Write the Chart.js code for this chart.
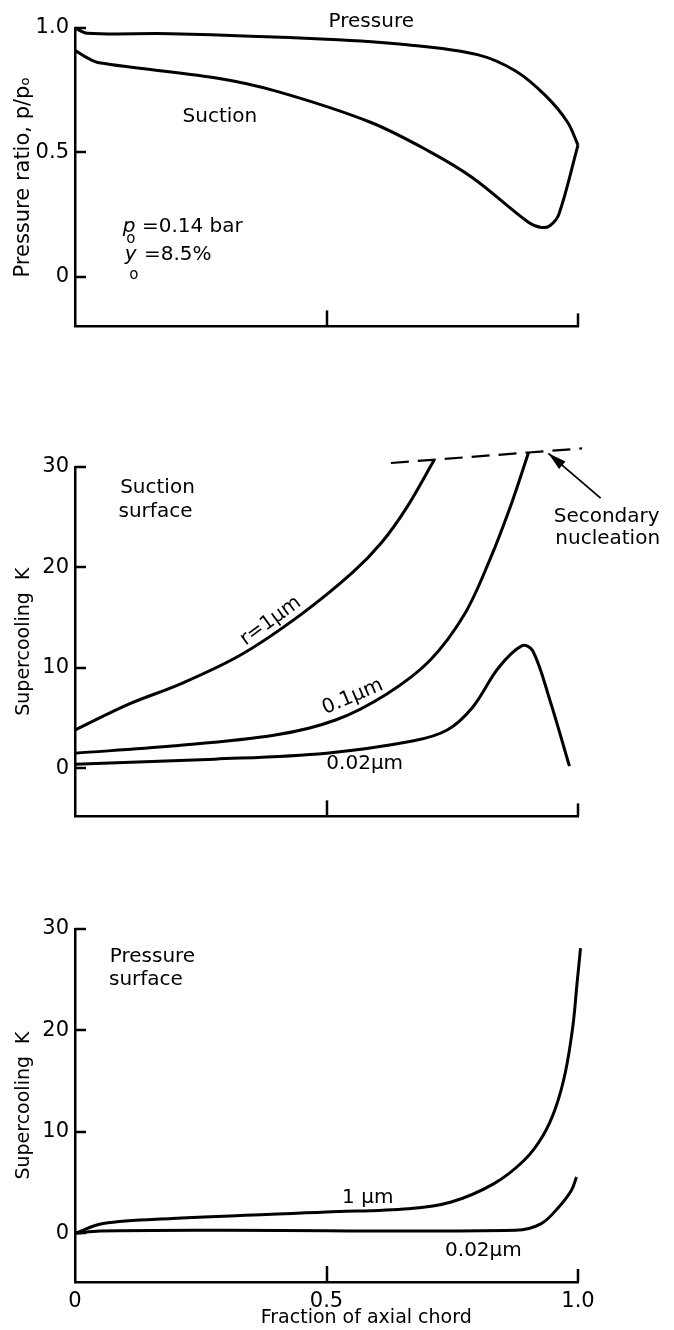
<!DOCTYPE html>
<html>
<head>
<meta charset="utf-8">
<script src="https://cdn.jsdelivr.net/npm/chart.js@4.4.0/dist/chart.umd.min.js"></script>
<style>
  html, body { margin: 0; padding: 0; background: #fff; }
  body { position: relative; width: 674px; height: 1330px; overflow: hidden; }
  .panel { position: absolute; left: 0; width: 674px; }
</style>
</head>
<body>
<div class="panel" style="top:0;height:345px"><canvas id="ratioChart"></canvas></div>
<div class="panel" style="top:440px;height:395px"><canvas id="suctionChart"></canvas></div>
<div class="panel" style="top:880px;height:450px"><canvas id="pressureChart"></canvas></div>
<script>
// fraction of axial chord (x) against the plotted quantity (y)

// pressure ratio p/p0 on the two blade surfaces
var chordPressure = [0, 0.024, 0.19, 0.5, 0.66, 0.80, 0.876, 0.936, 0.979, 1.0];
var ratioPressure = [1.0, 0.979, 0.977, 0.955, 0.933, 0.893, 0.827, 0.727, 0.622, 0.529];
var chordSuction = [0, 0.02, 0.048, 0.278, 0.398, 0.586, 0.705, 0.791, 0.902, 0.927, 0.944, 0.962, 1.0];
var ratioSuction = [0.91, 0.885, 0.86, 0.80, 0.747, 0.622, 0.503, 0.397, 0.218, 0.198, 0.205, 0.251, 0.529];

// supercooling on the suction surface, by droplet radius
var chordSuc1 = [0, 0.108, 0.21, 0.33, 0.449, 0.552, 0.61, 0.66, 0.714];
var coolSuc1 = [3.8, 6.4, 8.4, 11.3, 15.3, 19.5, 22.5, 26.0, 30.7];
var chordSuc01 = [0, 0.193, 0.398, 0.518, 0.62, 0.705, 0.774, 0.825, 0.868, 0.902];
var coolSuc01 = [1.5, 2.2, 3.3, 4.8, 7.4, 10.7, 15.3, 20.8, 26.4, 31.5];
var chordSuc002 = [0, 0.278, 0.5, 0.671, 0.74, 0.791, 0.842, 0.889, 0.91, 0.944, 0.983];
var coolSuc002 = [0.4, 0.9, 1.5, 2.7, 3.8, 6.1, 10.0, 12.2, 11.7, 6.8, 0.2];
// secondary nucleation limit
var chordNucleation = [0.628, 1.008];
var coolNucleation = [30.4, 31.85];
var nucleationArrow = [[1.045, 26.9], [0.941, 31.36]];

// supercooling on the pressure surface
var chordPre1 = [0, 0.056, 0.193, 0.5, 0.663, 0.748, 0.833, 0.893, 0.93, 0.955, 0.975, 0.99, 0.998, 1.005];
var coolPre1 = [0, 0.96, 1.45, 2.1, 2.43, 3.09, 4.9, 7.2, 9.6, 12.3, 15.9, 20.5, 24.6, 28.1];
var chordPre002 = [0, 0.05, 0.278, 0.876, 0.927, 0.962, 0.987, 0.997];
var coolPre002 = [0, 0.22, 0.3, 0.3, 0.96, 2.6, 4.24, 5.56];

// axis ticks
var ratioTicks = [0, 0.5, 1.0];
var coolTicks = [0, 10, 20, 30];
var chordTicks = [0, 0.5, 1.0];

var FONT = '"DejaVu Sans", "Liberation Sans", sans-serif';

function pts(xs, ys) {
  return xs.map(function (v, i) { return { x: v, y: ys[i] }; });
}

function curve(xs, ys, extra) {
  var ds = {
    data: pts(xs, ys),
    borderColor: '#000',
    borderWidth: 3,
    pointRadius: 0,
    showLine: true,
    fill: false,
    clip: false,
    tension: 0.35
  };
  for (var k in extra) ds[k] = extra[k];
  return ds;
}

// inward tick marks, notes and the pointer arrow
function paperLayer(cfg) {
  return {
    id: 'paper',
    afterDatasetsDraw: function (chart) {
      var ctx = chart.ctx, sx = chart.scales.x, sy = chart.scales.y;
      ctx.save();
      ctx.strokeStyle = '#000';
      ctx.fillStyle = '#000';
      ctx.lineWidth = 2.5;
      cfg.yTicks.forEach(function (v) {
        var py = Math.round(sy.getPixelForValue(v));
        ctx.beginPath();
        ctx.moveTo(sx.left, py);
        ctx.lineTo(sx.left + 11, py);
        ctx.stroke();
      });
      chordTicks.forEach(function (v) {
        if (v === 0) return;
        var px = Math.round(sx.getPixelForValue(v));
        ctx.beginPath();
        ctx.moveTo(px, sy.bottom);
        ctx.lineTo(px, sy.bottom - (v === 1 ? 13 : 16));
        ctx.stroke();
      });
      if (cfg.arrow) {
        var x0 = sx.getPixelForValue(cfg.arrow[0][0]), y0 = sy.getPixelForValue(cfg.arrow[0][1]);
        var x1 = sx.getPixelForValue(cfg.arrow[1][0]), y1 = sy.getPixelForValue(cfg.arrow[1][1]);
        var a = Math.atan2(y1 - y0, x1 - x0);
        ctx.lineWidth = 1.8;
        ctx.beginPath();
        ctx.moveTo(x0, y0);
        ctx.lineTo(x1, y1);
        ctx.stroke();
        ctx.beginPath();
        ctx.moveTo(x1, y1);
        ctx.lineTo(x1 - 19 * Math.cos(a - 0.26), y1 - 19 * Math.sin(a - 0.26));
        ctx.lineTo(x1 - 19 * Math.cos(a + 0.26), y1 - 19 * Math.sin(a + 0.26));
        ctx.closePath();
        ctx.fill();
      }
      cfg.notes.forEach(function (n) {
        ctx.save();
        ctx.translate(sx.getPixelForValue(n.x), sy.getPixelForValue(n.y));
        if (n.rotate) ctx.rotate(n.rotate * Math.PI / 180);
        ctx.font = (n.style || '') + ' ' + (n.size || 20) + 'px ' + FONT;
        ctx.textAlign = n.align || 'center';
        ctx.textBaseline = n.baseline || 'middle';
        ctx.fillText(n.text, 0, 0);
        ctx.restore();
      });
      ctx.restore();
    }
  };
}

function panel(id, opt) {
  return new Chart(document.getElementById(id), {
    type: 'scatter',
    data: { datasets: opt.datasets },
    options: {
      responsive: true,
      maintainAspectRatio: false,
      animation: false,
      events: [],
      layout: { padding: { top: opt.padTop, left: 0, right: 96, bottom: 0 } },
      plugins: { legend: { display: false }, tooltip: { enabled: false } },
      scales: {
        x: {
          type: 'linear',
          min: 0,
          max: 1,
          afterBuildTicks: function (s) { s.ticks = chordTicks.map(function (v) { return { value: v }; }); },
          afterFit: function (s) { s.height = opt.xHeight; },
          grid: { display: false, drawTicks: false },
          border: { display: true, color: '#000', width: 2.5 },
          ticks: {
            display: !!opt.xLabels,
            padding: 7,
            color: '#000',
            font: { family: FONT, size: 21 },
            callback: function (v) { return v === 0 ? '0' : v.toFixed(1); }
          }
        },
        y: {
          type: 'linear',
          min: opt.yMin,
          max: opt.yMax,
          afterBuildTicks: function (s) { s.ticks = opt.yTicks.map(function (v) { return { value: v }; }); },
          afterFit: function (s) { s.width = 75; },
          grid: { display: false, drawTicks: false },
          border: { display: true, color: '#000', width: 2.5 },
          ticks: {
            padding: 6,
            color: '#000',
            font: { family: FONT, size: 21 },
            callback: opt.yFormat
          },
          title: {
            display: true,
            text: opt.yTitle,
            color: '#000',
            font: { family: FONT, size: opt.yTitleSize },
            padding: { top: opt.yTitlePad, bottom: 0 }
          }
        }
      }
    },
    plugins: [paperLayer({ yTicks: opt.yTicks, notes: opt.notes, arrow: opt.arrow })]
  });
}

panel('ratioChart', {
  padTop: 28,
  xHeight: 15,
  yMin: -0.2,
  yMax: 1.0,
  yTicks: ratioTicks,
  yFormat: function (v) { return v === 0 ? '0' : v.toFixed(1); },
  yTitle: 'Pressure ratio, p/p\u2092',
  yTitleSize: 21,
  yTitlePad: 11,
  datasets: [
    curve(chordPressure, ratioPressure),
    curve(chordSuction, ratioSuction)
  ],
  notes: [
    { text: 'Pressure', x: 0.589, y: 1.024 },
    { text: 'Suction', x: 0.288, y: 0.643 },
    { text: 'p', x: 0.095, y: 0.179, align: 'left', baseline: 'alphabetic', style: 'italic' },
    { text: 'o', x: 0.111, y: 0.151, size: 15 },
    { text: '=0.14 bar', x: 0.133, y: 0.179, align: 'left', baseline: 'alphabetic' },
    { text: 'y', x: 0.099, y: 0.067, align: 'left', baseline: 'alphabetic', style: 'italic' },
    { text: 'o', x: 0.117, y: 0.008, size: 15 },
    { text: '=8.5%', x: 0.137, y: 0.067, align: 'left', baseline: 'alphabetic' }
  ]
});

panel('suctionChart', {
  padTop: 27,
  xHeight: 14,
  yMin: -4.8,
  yMax: 30,
  yTicks: coolTicks,
  yTitle: 'Supercooling  K',
  yTitleSize: 19,
  yTitlePad: 13,
  datasets: [
    curve(chordSuc1, coolSuc1),
    curve(chordSuc01, coolSuc01),
    curve(chordSuc002, coolSuc002),
    curve(chordNucleation, coolNucleation, { borderWidth: 2.2, borderDash: [18, 9], tension: 0 })
  ],
  arrow: nucleationArrow,
  notes: [
    { text: 'Suction', x: 0.164, y: 27.9 },
    { text: 'surface', x: 0.160, y: 25.5 },
    { text: 'Secondary', x: 1.057, y: 25.05 },
    { text: 'nucleation', x: 1.059, y: 22.8 },
    { text: 'r=1\u00b5m', x: 0.389, y: 14.65, rotate: -36 },
    { text: '0.1\u00b5m', x: 0.552, y: 7.1, rotate: -23 },
    { text: '0.02\u00b5m', x: 0.576, y: 0.4 }
  ]
});

panel('pressureChart', {
  padTop: 49,
  xHeight: 48,
  xLabels: true,
  yMin: -4.8,
  yMax: 30,
  yTicks: coolTicks,
  yTitle: 'Supercooling  K',
  yTitleSize: 19,
  yTitlePad: 13,
  datasets: [
    curve(chordPre1, coolPre1),
    curve(chordPre002, coolPre002)
  ],
  notes: [
    { text: 'Pressure', x: 0.154, y: 27.3 },
    { text: 'surface', x: 0.141, y: 25.0 },
    { text: '1 \u00b5m', x: 0.582, y: 3.5 },
    { text: '0.02\u00b5m', x: 0.812, y: -1.7 },
    { text: 'Fraction of axial chord', x: 0.579, y: -8.4, size: 19 }
  ]
});
</script>
</body>
</html>
